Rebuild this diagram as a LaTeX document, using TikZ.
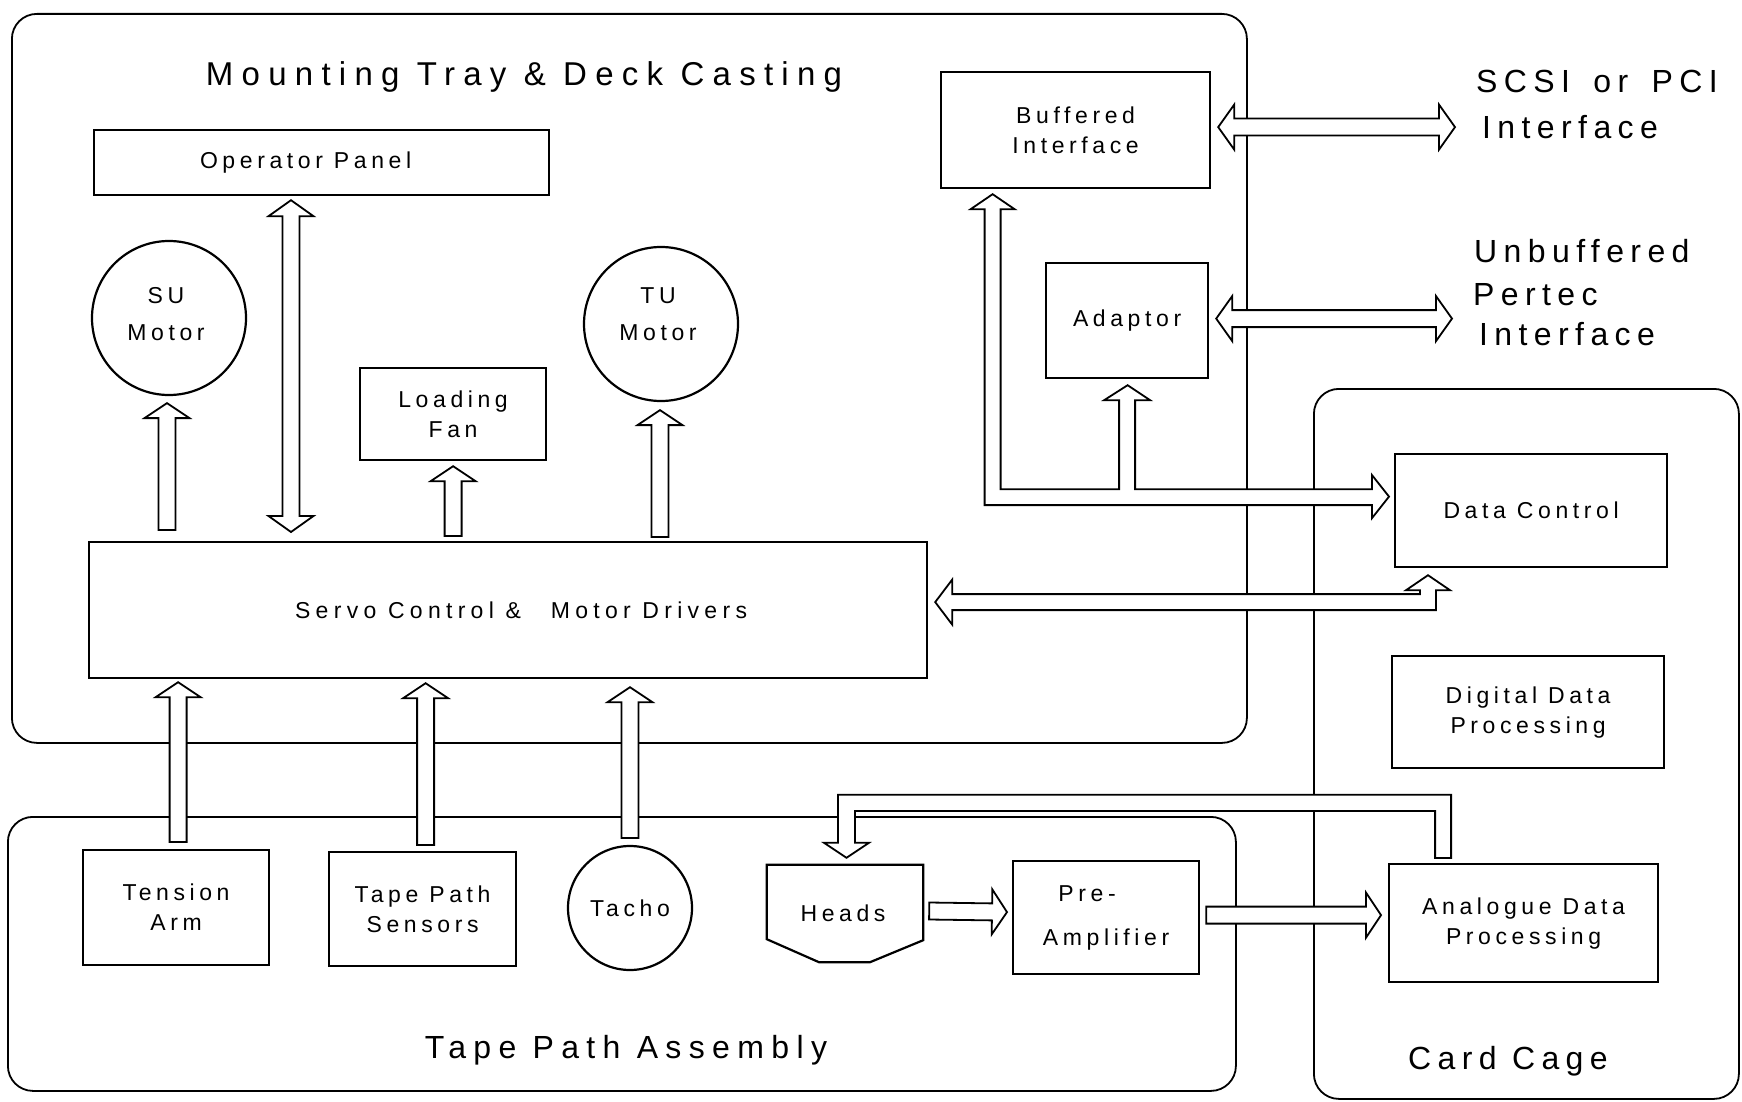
\documentclass[tikz,border=0pt]{standalone}
\usepackage{fontspec}
\setmainfont{Liberation Sans}[LetterSpace=20]
\usetikzlibrary{calc}
\newcommand\boxfont{\fontsize{23}{30}\selectfont}
\newcommand\bigfont{\fontsize{32}{44}\selectfont}
\newcommand\titlefont{\fontsize{33}{44}\selectfont\addfontfeature{LetterSpace=25}}
\tikzset{
  box/.style={draw, line width=2.2pt, inner sep=0pt, font=\boxfont, align=center, anchor=north west},
  motor/.style={draw, circle, line width=2.2pt, inner sep=0pt, font=\boxfont, align=center},
  motorlbl/.style={font=\boxfont, align=center, inner sep=0pt},
  cont/.style={draw, line width=1.8pt, rounded corners=25pt, inner sep=0pt, anchor=north west},
  barrow/.style={draw, line width=1.8pt, fill=white, line join=miter},
  biglbl/.style={font=\bigfont, inner sep=0pt, anchor=base west},
}
% single block arrow: tail -> tip
\newcommand\SArrow[2]{%
  \path let \p1=#1, \p2=#2, \n1={atan2(\y2-\y1,\x2-\x1)}, \n2={veclen(\x2-\x1,\y2-\y1)} in
    \pgfextra{\xdef\arrA{\n1}\xdef\arrL{\n2}} (\p1) coordinate (arrT);
  \begin{scope}[shift={(arrT)}, rotate=\arrA]
    \draw[barrow] (0pt,8.5pt) -- ({\arrL-15pt},8.5pt) -- ({\arrL-15pt},22.5pt) -- (\arrL,0pt)
      -- ({\arrL-15pt},-22.5pt) -- ({\arrL-15pt},-8.5pt) -- (0pt,-8.5pt) -- cycle;
  \end{scope}}
% double block arrow: tip -> tip
\newcommand\DArrow[2]{%
  \path let \p1=#1, \p2=#2, \n1={atan2(\y2-\y1,\x2-\x1)}, \n2={veclen(\x2-\x1,\y2-\y1)} in
    \pgfextra{\xdef\arrA{\n1}\xdef\arrL{\n2}} (\p1) coordinate (arrT);
  \begin{scope}[shift={(arrT)}, rotate=\arrA]
    \draw[barrow] (0pt,0pt) -- (16pt,22.5pt) -- (16pt,8.5pt) -- ({\arrL-16pt},8.5pt) -- ({\arrL-16pt},22.5pt)
      -- (\arrL,0pt) -- ({\arrL-16pt},-22.5pt) -- ({\arrL-16pt},-8.5pt) -- (16pt,-8.5pt) -- (16pt,-22.5pt) -- cycle;
  \end{scope}}
\begin{document}
\begin{tikzpicture}[x=1pt,y=-1pt]
\useasboundingbox (0,0) rectangle (1742,1102);
% containers
\node[cont, minimum width=1235, minimum height=729] (tray) at (11,13) {};
\node[cont, minimum width=1228, minimum height=274] (tpa) at (7,816) {};
\node[cont, minimum width=425, minimum height=710] (cage) at (1313,388) {};
% container labels
\node[font=\titlefont, inner sep=0pt, anchor=base] (traylbl) at (524,86) {Mounting Tray \& Deck Casting};
\node[font=\bigfont\addfontfeature{LetterSpace=23}, inner sep=0pt, anchor=base] (tpalbl) at (626,1058) {Tape Path Assembly};
\node[font=\bigfont, inner sep=0pt, anchor=base] (cagelbl) at (1508,1069) {Card Cage};
% external labels
\node[biglbl] (scsi1) at (1476,93) {SCSI\hspace{0.25em} or\hspace{0.25em} PCI};
\node[biglbl] (scsi2) at (1482,139) {Interface};
\node[biglbl] (pert1) at (1474,262) {Unbuffered};
\node[biglbl] (pert2) at (1473,305) {Pertec};
\node[biglbl] (pert3) at (1479,345) {Interface};
% boxes
\node[box, minimum width=455, minimum height=65] (op) at (93,129) {Operator Panel\hspace*{32pt}};
\node[box, minimum width=186, minimum height=92] (lf) at (359,367) {Loading\\Fan};
\node[box, minimum width=838, minimum height=136, font=\boxfont\addfontfeature{LetterSpace=23}] (servo) at (88,541) {\hspace*{26pt}Servo Control \&\hspace{1.3em}Motor Drivers};
\node[box, minimum width=269, minimum height=116] (buf) at (940,71) {Buffered\\Interface};
\node[box, minimum width=162, minimum height=115] (adp) at (1045,262) {Adaptor};
\node[box, minimum width=272, minimum height=113] (dc) at (1394,453) {Data Control};
\node[box, minimum width=272, minimum height=112] (ddp) at (1391,655) {Digital Data\\Processing};
\node[box, minimum width=269, minimum height=118] (ana) at (1388,863) {Analogue Data\\Processing};
\node[box, minimum width=186, minimum height=115] (ta) at (82,849) {Tension\\Arm};
\node[box, minimum width=187, minimum height=114] (tps) at (328,851) {Tape Path\\Sensors};
\node[box, minimum width=186, minimum height=113] (pre) at (1012,860) {Pre-\hspace*{38pt}\\[14pt]Amplifier};
\node[motor, minimum size=154, label={[motorlbl, yshift=4pt, xshift=-3pt]center:{SU\\[7pt]Motor}}] (su) at (169,318) {};
\node[motor, minimum size=154, label={[motorlbl, yshift=10pt, xshift=-3pt]center:{TU\\[7pt]Motor}}] (tu) at (661,324) {};
\node[motor, minimum size=124] (tacho) at (630,908) {Tacho};
\node[font=\boxfont, inner sep=0pt, minimum width=156, minimum height=97] (heads) at (845,913.5) {\hspace*{-4pt}Heads};
\draw[line width=2.2pt, line join=miter] (heads.north west) -- (heads.north east) -- ($(heads.south east)+(0,-22)$)
  -- ($(heads.south)+(25,0)$) -- ($(heads.south)+(-26,0)$) -- ($(heads.south west)+(0,-23)$) -- cycle;
% straight arrows
\SArrow{($(servo.north -| su.south)+(-2,-11)$)}{($(su.south)+(-2,7)$)}
\SArrow{($(servo.north -| lf.south)+(0,-5)$)}{($(lf.south)+(0,5)$)}
\SArrow{($(servo.north -| tu.south)+(-1,-4)$)}{($(tu.south)+(-1,8)$)}
\DArrow{($(op.south west)+(198,4)$)}{($(op.south west |- servo.north)+(198,-9)$)}
\SArrow{($(ta.north)+(2,-7)$)}{($(servo.south -| ta.north)+(2,3)$)}
\SArrow{($(tps.north)+(3,-6)$)}{($(servo.south -| tps.north)+(3,4)$)}
\SArrow{($(tacho.north)+(0,-7)$)}{($(servo.south -| tacho.north)+(0,8)$)}
\DArrow{($(buf.east)+(7,-3)$)}{($(buf.east -| scsi2.west)+(-27,-3)$)}
\DArrow{($(adp.east)+(7,-2)$)}{($(adp.east -| pert3.west)+(-27,-2)$)}
\SArrow{($(heads.east)+(6,-2.5)$)}{($(pre.west)+(-5,-5.5)$)}
\SArrow{($(pre.east)+(6,-2.5)$)}{($(ana.west)+(-7,-8)$)}
% bus: Buffered / Adaptor <-> Data Control
\coordinate (bustip) at ($(dc.west)+(-5,-14)$);
\draw[barrow] ($(buf.south)+(-83,5)$) coordinate (buftip) -- ++(22,15) -- ++(-14,0) |- ($(adp.south)+(-8,110)$)
  -- ++(0,-89) -- ++(-15,0) -- ($(adp.south)+(0.5,6)$) coordinate (adptip) -- ++(22.5,15) -- ++(-15,0)
  -- ++(0,89) -| ($(bustip)+(-17,-8.5)$) -- ++(0,-13) -- (bustip) -- ++(-17,21.5) -- ++(0,-13)
  -| ($(buftip)+(-8,15)$) -- ++(-14,0) -- cycle;
% Servo <-> Data Control
\coordinate (dctip) at ($(dc.south west)+(34,7)$);
\draw[barrow] ($(servo.east)+(7,-8)$) coordinate (svtip) -- ++(17,-22.5) -- ++(0,14.5) -| ($(dctip)+(-8,15)$)
  -- ++(-14,0) -- (dctip) -- ++(22,15) -- ++(-14,0) |- ($(svtip)+(17,8)$) -- ++(0,14.5) -- cycle;
% Analogue -> Heads loop
\coordinate (hdtip) at ($(heads.north)+(1.5,-7)$);
\draw[barrow] ($(ana.north)+(-72.5,-5)$) |- ($(hdtip)+(-8.5,-63)$) -- ++(0,48) -- ++(-14,0) -- (hdtip)
  -- ++(22.5,-15) -- ++(-14,0) |- ($(ana.north)+(-88.5,-52)$) -- ++(0,47) -- cycle;
\end{tikzpicture}
\end{document}
